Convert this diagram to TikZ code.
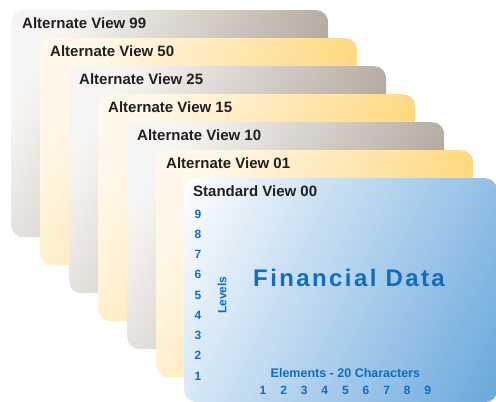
\documentclass[tikz,border=0pt]{standalone}
\usepackage{fontspec}
\setmainfont{Liberation Sans}
\usepackage{tikz}
\usetikzlibrary{positioning}

\definecolor{taupe}{HTML}{A69B8F}
\definecolor{taupelight}{HTML}{F7F5F3}
\definecolor{sand}{HTML}{FFD168}
\definecolor{sandlight}{HTML}{FFF8EA}
\definecolor{sky}{HTML}{68A7DC}
\definecolor{ink}{HTML}{231F20}
\definecolor{levelblue}{HTML}{0F6EBE}

\pgfdeclareverticalshading{skyfade}{100bp}{color(0bp)=(sky); color(16bp)=(sky); color(84bp)=(white); color(100bp)=(white)}

\tikzset{
	card/.style={rectangle, rounded corners=12pt, inner sep=0pt, minimum width=317pt, minimum height=227pt},
	graycard/.style={card, top color=taupelight, bottom color=taupe, shading angle=60},
	sandcard/.style={card, top color=sandlight, bottom color=sand, shading angle=60},
	skycard/.style={card, minimum width=313pt, minimum height=224pt, shading=skyfade, shading angle=63},
	title/.style={inner sep=0pt, text=ink, font=\bfseries\fontsize{15}{18}\selectfont},
	tick/.style={inner sep=0pt, text=levelblue, font=\bfseries\fontsize{12}{14}\selectfont}
}

\begin{document}
\begin{tikzpicture}[x=1pt, y=1pt, node distance=20pt, on grid]
			\useasboundingbox (0,0) rectangle (496,-402);

			\node[graycard, anchor=north west] (v99) at (11,-10) {};
			\node[sandcard, below right = 28pt and 29pt of v99.north west] (v50) {};
			\node[graycard, below right = 28pt and 29pt of v50.north west] (v25) {};
			\node[sandcard, below right = 28pt and 29pt of v25.north west] (v15) {};
			\node[graycard, below right = 28pt and 29pt of v15.north west] (v10) {};
			\node[sandcard, below right = 28pt and 29pt of v10.north west] (v01) {};
			\node[skycard, below right = 28pt and 28pt of v01.north west] (v00) {};

			\node[title, below right = 7.5pt and 11pt of v99.north west] (t99) {Alternate View 99};
			\node[title, below right = 7.5pt and 10pt of v50.north west] (t50) {Alternate View 50};
			\node[title, below right = 7.5pt and 10pt of v25.north west] (t25) {Alternate View 25};
			\node[title, below right = 7.5pt and 10pt of v15.north west] (t15) {Alternate View 15};
			\node[title, below right = 7.5pt and 10pt of v10.north west] (t10) {Alternate View 10};
			\node[title, below right = 7.5pt and 10pt of v01.north west] (t01) {Alternate View 01};
			\node[title, below right = 7.5pt and 9pt of v00.north west] (t00) {Standard View 00};

			\node[tick, below right = 198pt and 14pt of v00.north west, anchor=center] (l1) {1};
			\node[tick, above = 20.25pt of l1] (l2) {2};
			\node[tick, above = 20.25pt of l2] (l3) {3};
			\node[tick, above = 20.25pt of l3] (l4) {4};
			\node[tick, above = 20.25pt of l4] (l5) {5};
			\node[tick, above = 20.25pt of l5] (l6) {6};
			\node[tick, above = 20.25pt of l6] (l7) {7};
			\node[tick, above = 20.25pt of l7] (l8) {8};
			\node[tick, above = 20.25pt of l8] (l9) {9};
			\node[tick, rotate=90, right = 23pt of l5, yshift=-1pt] (levels) {Levels};

			\node[tick, below right = 212pt and 79pt of v00.north west, anchor=center] (e1) {1};
			\node[tick, right = 20.6pt of e1] (e2) {2};
			\node[tick, right = 20.6pt of e2] (e3) {3};
			\node[tick, right = 20.6pt of e3] (e4) {4};
			\node[tick, right = 20.6pt of e4] (e5) {5};
			\node[tick, right = 20.6pt of e5] (e6) {6};
			\node[tick, right = 20.6pt of e6] (e7) {7};
			\node[tick, right = 20.6pt of e7] (e8) {8};
			\node[tick, right = 20.6pt of e8] (e9) {9};
			\node[tick, font=\bfseries\fontsize{12.5}{15}\selectfont, above = 17pt of e5] (elements) {Elements - 20 Characters};

			\node[tick, font=\bfseries\fontsize{24}{28}\selectfont\addfontfeature{LetterSpace=10}, below right = 100pt and 165pt of v00.north west, anchor=center] (fin) {Financial Data};
		\end{tikzpicture}
\end{document}
